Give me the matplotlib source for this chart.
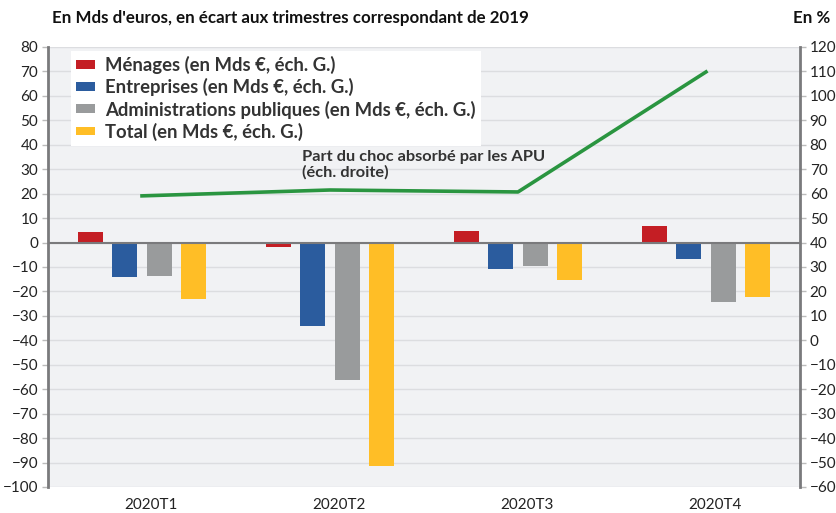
import matplotlib
matplotlib.use("Agg")
import matplotlib.pyplot as plt
from matplotlib.patches import Patch
import numpy as np

plt.rcParams['font.family'] = ['Lato', 'DejaVu Sans']

# data
quarters = ['2020T1', '2020T2', '2020T3', '2020T4']
menages = [4.2, -2.0, 4.8, 6.8]
entreprises = [-14.2, -34.1, -10.9, -6.7]
apu = [-13.7, -56.2, -9.6, -24.2]
total = [-23.0, -91.4, -15.4, -22.1]
part_apu = [59.1, 61.5, 60.7, 109.8]  # right axis, in %

series = [
    ('Ménages (en Mds €, éch. G.)', menages, '#c41e24'),
    ('Entreprises (en Mds €, éch. G.)', entreprises, '#2b5c9e'),
    ('Administrations publiques (en Mds €, éch. G.)', apu, '#999b9c'),
    ('Total (en Mds €, éch. G.)', total, '#ffbe26'),
]

txt = '#222222'
fig = plt.figure(figsize=(8.37, 5.13), dpi=100)
ax = fig.add_axes([48 / 837, 26 / 513, 752 / 837, 440 / 513])
ax.set_facecolor('#f1f2f4')

x = np.arange(len(quarters))
w = 0.133
step = 0.181
handles = []
for k, (name, vals, col) in enumerate(series):
    ax.bar(x + (k - 1.5) * step, vals, width=w, color=col, zorder=3)
    handles.append(Patch(facecolor=col, label=name))

ax.set_xlim(-0.5, 3.5)
ax.set_ylim(-100, 80)
ax.set_yticks(np.arange(-100, 81, 10))
ax.grid(axis='y', color='#dcdde0', linewidth=1, zorder=0)
ax.axhline(0, color='#7a7a7c', linewidth=1.5, zorder=4)
ax.set_xticks(x + 0.05)
ax.set_xticklabels(quarters)
ax.tick_params(axis='x', length=0, pad=8, labelsize=11, labelcolor=txt)
ax.tick_params(axis='y', length=4, width=1, color='#bbbbbb', labelsize=11, labelcolor=txt, pad=3)
for s in ['top', 'bottom']:
    ax.spines[s].set_visible(False)
ax.spines['left'].set_color('#7a7a7c')
ax.spines['left'].set_linewidth(2)
ax.spines['right'].set_visible(False)

ax2 = ax.twinx()
ax2.set_ylim(-60, 120)
ax2.set_yticks(np.arange(-60, 121, 10))
ax2.plot(x, part_apu, color='#2a9540', linewidth=2.6, zorder=5)
ax2.tick_params(axis='y', length=4, width=1, color='#bbbbbb', labelsize=11, labelcolor=txt, pad=3)
for s in ['top', 'bottom', 'left']:
    ax2.spines[s].set_visible(False)
ax2.spines['right'].set_color('#7a7a7c')
ax2.spines['right'].set_linewidth(2)

leg = ax.legend(handles=handles, loc='upper left', bbox_to_anchor=(0.03, 0.992),
                frameon=True, fancybox=False, framealpha=1, facecolor='white',
                edgecolor='none', fontsize=13.3, handlelength=1.05, handleheight=0.35,
                handletextpad=0.5, labelspacing=0.22, borderpad=0.3, borderaxespad=0)
leg.set_zorder(6)
for t in leg.get_texts():
    t.set_color('#333333')
    t.set_fontweight('bold')

ax.text(0.85, 37.8, 'Part du choc absorbé par les APU\n(éch. droite)', fontsize=11.8,
        fontweight='bold', color='#333333', va='top', ha='left', linespacing=1.1, zorder=7)

fig.text(52 / 837, 1 - 18 / 513, "En Mds d'euros, en écart aux trimestres correspondant de 2019",
         fontsize=12.2, fontweight='bold', color='#111111', va='center', ha='left')
fig.text(830 / 837, 1 - 18 / 513, 'En %', fontsize=12.2, fontweight='bold',
         color='#111111', va='center', ha='right')

fig.savefig('out.png', dpi=100)
